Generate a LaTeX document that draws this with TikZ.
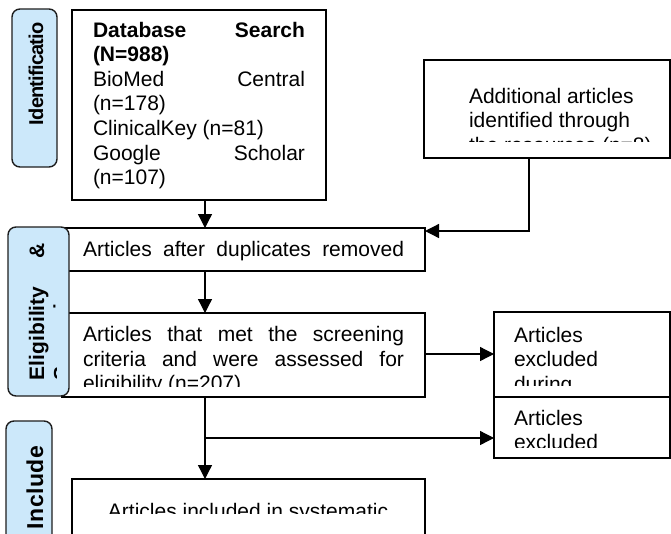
\documentclass[tikz,border=0pt]{standalone}
\usepackage{fontspec}
\setmainfont{Liberation Sans}
\usetikzlibrary{arrows.meta}
\definecolor{labfill}{RGB}{204,232,250}
\definecolor{labdraw}{RGB}{30,30,30}
\begin{document}
\begin{tikzpicture}[x=1pt,y=-1pt,
  box/.style={draw=black, line width=1.4pt, rectangle, inner sep=0pt, outer sep=0pt},
  lab/.style={draw=labdraw, fill=labfill, line width=1.4pt, rounded corners=8pt, rectangle, inner sep=0pt, outer sep=0pt},
  txt/.style={inner sep=0pt, outer sep=0pt, font=\fontsize{21}{24.6}\selectfont},
  ltxt/.style={inner sep=0pt, outer sep=0pt, rotate=90, font=\fontsize{21}{24.6}\selectfont\bfseries},
  arr/.style={line width=1.3pt, -{Triangle[length=14pt,width=14pt]}}]

\clip (0,0) rectangle (671,533);
\fill[white] (0,0) rectangle (671,533);

% boxes
\node[box, minimum width=254pt, minimum height=190pt] (db)  at (199,105) {};
\node[box, minimum width=246pt, minimum height=98pt]  (add) at (547,109) {};
\node[box, minimum width=363pt, minimum height=43pt]  (dup) at (243.5,249.5) {};
\node[box, minimum width=363pt, minimum height=84pt]  (scr) at (243.5,355) {};
\node[box, minimum width=176pt, minimum height=85pt]  (ex1) at (582,354.5) {};
\node[box, minimum width=176pt, minimum height=61pt]  (ex2) at (582,427.5) {};
\node[box, minimum width=353pt, minimum height=81pt]  (inc) at (248.5,519.5) {};

% connectors
\coordinate (spine) at (205,0);
\coordinate (joinA) at (529,231);
\coordinate (r1) at (0,354);
\coordinate (br) at (205,438);
\draw[arr] (db.south -| spine) -- (dup.north -| spine);
\draw[arr] (add.south -| joinA) -- (joinA) -- (dup.east |- joinA);
\draw[arr] (dup.south -| spine) -- (scr.north -| spine);
\draw[arr] (scr.east |- r1) -- (ex1.west |- r1);
\draw[arr] (scr.south -| spine) -- (inc.north -| spine);
\draw[arr] (br) -- (ex2.west |- br);

% box texts
\node[txt, anchor=base west] (dbt) at (93,37) {\vtop{%
  \hbox to212pt{\bfseries Database\hfill Search}%
  \hbox{\bfseries (N=988)}%
  \hbox to212pt{BioMed\hfill Central}%
  \hbox{(n=178)}%
  \hbox{ClinicalKey (n=81)}%
  \hbox to212pt{Google\hfill Scholar}%
  \hbox{(n=107)}}};

\begin{scope}
  \clip (424,60) rectangle (670,141);
  \node[txt, anchor=base west] (addt) at (469,103) {\vtop{%
    \hbox{Additional articles}%
    \hbox{identified through}%
    \hbox{the resources (n=8)}}};
\end{scope}

\node[txt, anchor=base west] (dupt) at (83,256)
  {\hbox to321pt{Articles\hfill after\hfill duplicates\hfill removed}};

\begin{scope}
  \clip (62,313) rectangle (425,386.5);
  \node[txt, anchor=base west] (scrt) at (83,341.7) {\vtop{%
    \hbox to321pt{Articles\hfill that\hfill met\hfill the\hfill screening}%
    \hbox to321pt{criteria\hfill and\hfill were\hfill assessed\hfill for}%
    \hbox{eligibility (n=207)}}};
\end{scope}

\begin{scope}
  \clip (494,312) rectangle (670,385);
  \node[txt, anchor=base west] (ex1t) at (514,342) {\vtop{%
    \hbox{Articles}\hbox{excluded}\hbox{during}}};
\end{scope}

\begin{scope}
  \clip (494,397) rectangle (670,447.5);
  \node[txt, anchor=base west] (ex2t) at (514,425) {\vtop{%
    \hbox{Articles}\hbox{excluded}}};
\end{scope}

\begin{scope}
  \clip (72,479) rectangle (425,513);
  \node[txt, anchor=base] (inct) at (248,518) {Articles included in systematic};
\end{scope}

% side labels
\node[lab, minimum width=45pt, minimum height=158pt] (idlab) at (34.5,88) {};
\node[lab, minimum width=61pt, minimum height=169pt] (ellab) at (38.5,311.5) {};
\node[lab, minimum width=46pt, minimum height=139pt] (inlab) at (29,490.5) {};

\begin{scope}
  \clip (12,9) rectangle (57,167);
  \node[ltxt, anchor=base west, font=\fontsize{20}{24}\selectfont\bfseries] (idt) at (43,125) {\addfontfeature{LetterSpace=-4}Identificatio};
\end{scope}
\node[ltxt, anchor=base west] (elt1) at (44,380) {\hbox to137pt{Eligibility\hfill\&}};
\begin{scope}
  \clip (8,227) rectangle (56,396);
  \node[ltxt, anchor=base west] (elt2) at (68.6,380) {Screening};
\end{scope}
\node[ltxt, anchor=base west, font=\fontsize{23}{26}\selectfont\bfseries] (int) at (43,529) {\addfontfeature{LetterSpace=2}Include};

\end{tikzpicture}
\end{document}
